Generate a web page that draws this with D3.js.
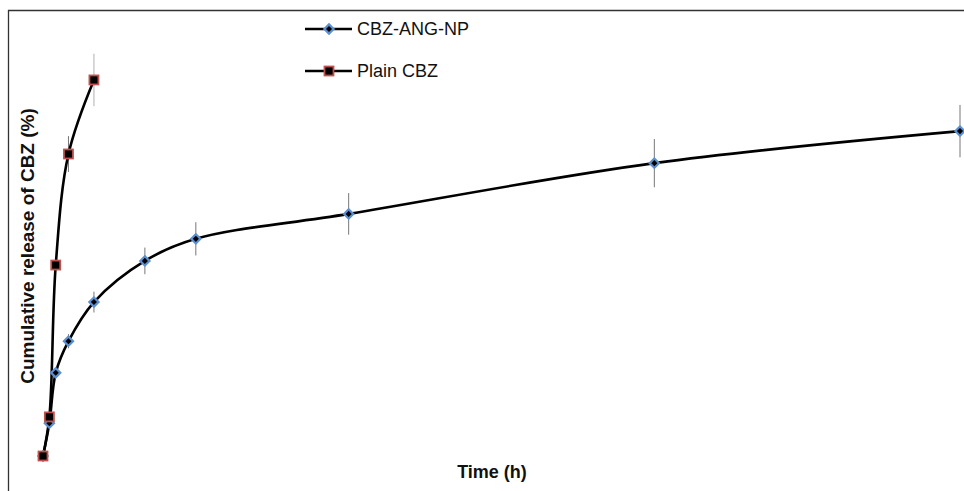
<!DOCTYPE html>
<html>
<head>
<meta charset="utf-8">
<script src="https://cdn.jsdelivr.net/npm/d3@7"></script>
<style>
  body { margin: 0; background: #fff; }
  svg text { font-family: "Liberation Sans", Arial, sans-serif; }
</style>
</head>
<body>
<div id="chart"></div>
<script>
// sampling times (h) and cumulative release (%)
var timesNP = [0, 0.5, 1, 2, 4, 8, 12, 24, 48, 72];
var releaseNP = [0, 7.9, 20, 27.6, 37, 46.9, 52.2, 58.2, 70.4, 78.1];
var errNP = [0.3, 0.5, 0.8, 1.7, 2.5, 3.2, 4, 5, 5.8, 6.3];

var timesPlain = [0, 0.5, 1, 2, 4];
var releasePlain = [0, 9.4, 45.9, 72.6, 90.4];
var errPlain = [0.3, 0.4, 0.5, 4.3, 6.3];

var seriesNames = ["CBZ-ANG-NP", "Plain CBZ"];

function init() {
  var w = 964, h = 491;

  var svg = d3.select("#chart").append("svg")
    .attr("width", w)
    .attr("height", h);

  // frame: only top and left edges are visible
  svg.append("line").attr("x1", 8).attr("x2", w).attr("y1", 10.5).attr("y2", 10.5)
    .attr("stroke", "#333").attr("stroke-width", 1.3);
  svg.append("line").attr("x1", 8.5).attr("x2", 8.5).attr("y1", 10).attr("y2", h)
    .attr("stroke", "#333").attr("stroke-width", 1.3);

  var xScale = d3.scaleLinear().domain([0, 72]).range([43, 960]);
  var yScale = d3.scaleLinear().domain([0, 100]).range([456, 40]);

  var np = timesNP.map(function(t, i) { return { t: t, v: releaseNP[i], e: errNP[i] }; });
  var plain = timesPlain.map(function(t, i) { return { t: t, v: releasePlain[i], e: errPlain[i] }; });

  var line = d3.line()
    .x(function(d) { return xScale(d.t); })
    .y(function(d) { return yScale(d.v); })
    .curve(d3.curveCatmullRom.alpha(0.5));

  // error bars
  function errorBars(data, cls, colorFn) {
    svg.selectAll("line." + cls)
      .data(data)
      .enter()
      .append("line")
      .attr("class", cls)
      .attr("x1", function(d) { return xScale(d.t); })
      .attr("x2", function(d) { return xScale(d.t); })
      .attr("y1", function(d) { return yScale(d.v + d.e); })
      .attr("y2", function(d) { return yScale(d.v - d.e); })
      .attr("stroke", colorFn)
      .attr("stroke-width", 1);
  }
  errorBars(np, "errnp", "#777");
  errorBars(plain, "errplain", function(d, i) { return i === plain.length - 1 ? "#b0b0b0" : "#777"; });

  svg.append("path").datum(np)
    .attr("d", line).attr("fill", "none")
    .attr("stroke", "#000").attr("stroke-width", 2.6);
  svg.append("path").datum(plain)
    .attr("d", line).attr("fill", "none")
    .attr("stroke", "#000").attr("stroke-width", 2.6);

  var diamond = d3.symbol().type(d3.symbolSquare).size(42);

  function drawDiamond(g, x, y) {
    g.append("path")
      .attr("d", diamond())
      .attr("transform", "translate(" + x + "," + y + ") rotate(45)")
      .attr("fill", "#000")
      .attr("stroke", "#5b8fd0")
      .attr("stroke-width", 2.2);
  }
  function drawSquare(g, x, y) {
    g.append("rect")
      .attr("x", x - 4.5).attr("y", y - 4.5)
      .attr("width", 9).attr("height", 9)
      .attr("fill", "#000")
      .attr("stroke", "#c0504d")
      .attr("stroke-width", 1.8);
  }

  var markers = svg.append("g");
  np.forEach(function(d) { drawDiamond(markers, xScale(d.t), yScale(d.v)); });
  plain.forEach(function(d) { drawSquare(markers, xScale(d.t), yScale(d.v)); });

  // legend
  var legend = svg.append("g");
  var legendY = [29, 71];
  seriesNames.forEach(function(name, i) {
    legend.append("line")
      .attr("x1", 305).attr("x2", 352)
      .attr("y1", legendY[i]).attr("y2", legendY[i])
      .attr("stroke", "#000").attr("stroke-width", 2.6);
    if (i === 0) drawDiamond(legend, 329, legendY[i]);
    else drawSquare(legend, 329, legendY[i]);
    legend.append("text")
      .attr("x", 357).attr("y", legendY[i] + 6)
      .attr("font-size", 18)
      .attr("fill", "#111")
      .text(name);
  });

  // axis titles
  svg.append("text")
    .attr("transform", "translate(34,246) rotate(-90)")
    .attr("text-anchor", "middle")
    .attr("font-size", 19)
    .attr("font-weight", "bold")
    .attr("fill", "#111")
    .text("Cumulative release of CBZ (%)");

  svg.append("text")
    .attr("x", 492).attr("y", 478)
    .attr("text-anchor", "middle")
    .attr("font-size", 18)
    .attr("font-weight", "bold")
    .attr("fill", "#111")
    .text("Time (h)");
}

window.onload = init;
</script>
</body>
</html>
